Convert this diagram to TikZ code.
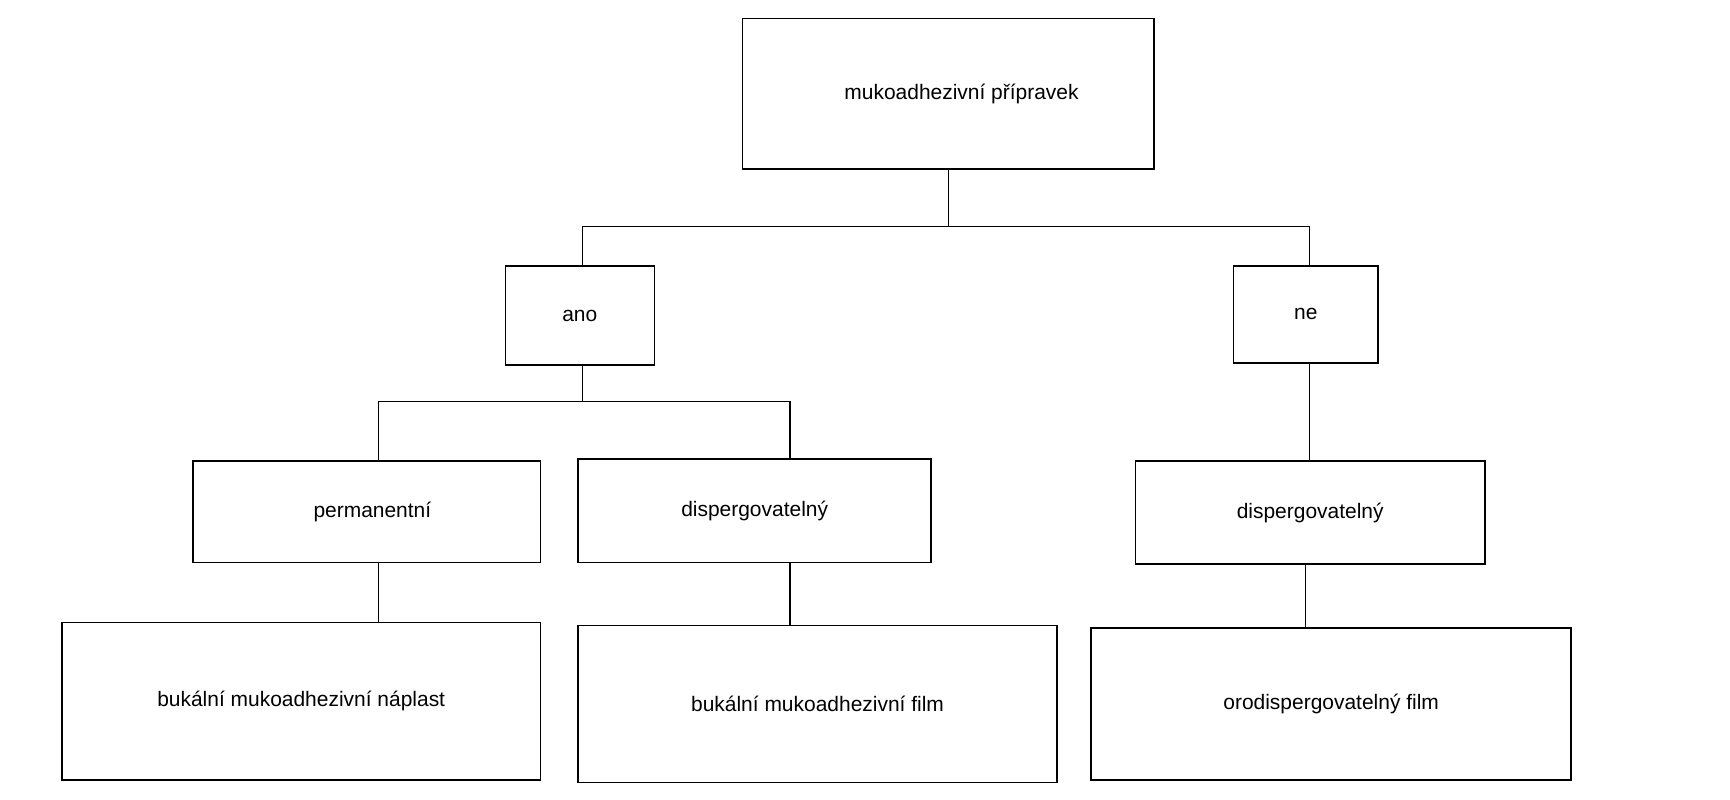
\documentclass[tikz,border=0pt]{standalone}
\usepackage{fontspec}
\setmainfont{Liberation Sans}
\begin{document}
\begin{tikzpicture}[x=1pt,y=-1pt,
  box/.style={draw,line width=1.3pt,inner sep=0pt,font=\fontsize{19}{22}\selectfont},
  ln/.style={line width=1pt}]
\useasboundingbox (0,0) rectangle (1568,725);
\node[box,minimum width=373,minimum height=136] (root) at (859.5,85) {\hspace*{24pt}mukoadhezivní přípravek};
\node[box,minimum width=135,minimum height=90] (ano) at (525.5,286) {ano};
\node[box,minimum width=131,minimum height=88] (ne) at (1183.5,285) {ne};
\node[box,minimum width=315,minimum height=92] (perm) at (332.5,464) {\hspace*{10pt}permanentní};
\node[box,minimum width=320,minimum height=94] (d1) at (684,463) {dispergovatelný};
\node[box,minimum width=317,minimum height=93] (d2) at (1187.5,464.5) {dispergovatelný};
\node[box,minimum width=434,minimum height=143] (b1) at (273,635.5) {bukální mukoadhezivní náplast};
\node[box,minimum width=434,minimum height=142] (b2) at (741,638) {bukální mukoadhezivní film};
\node[box,minimum width=435,minimum height=138] (od) at (1206.5,638) {orodispergovatelný film};
\coordinate (j1) at (860,205);
\coordinate (j2) at (528,364);
\draw[ln] (root.south -| j1) -- (j1);
\draw[ln] (ano.north -| 528,0) |- (j1) -| (ne.north -| 1187,0);
\draw[ln] (ano.south -| j2) -- (j2);
\draw[ln] (perm.north -| 343,0) |- (j2) -| (d1.north -| 716,0);
\draw[ln] (ne.south -| 1187,0) -- (d2.north -| 1187,0);
\draw[ln] (perm.south -| 343,0) -- (b1.north -| 343,0);
\draw[ln] (d1.south -| 716,0) -- (b2.north -| 716,0);
\draw[ln] (d2.south -| 1183,0) -- (od.north -| 1183,0);
\end{tikzpicture}
\end{document}
